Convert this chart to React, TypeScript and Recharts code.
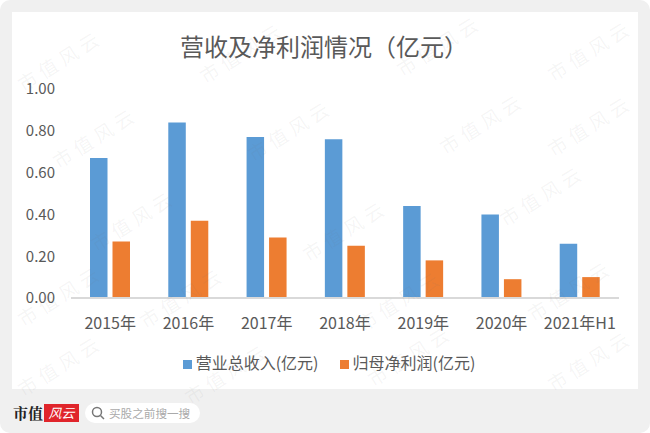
import { Bar, BarChart, Legend, XAxis, YAxis } from "recharts";

const years = ["2015年", "2016年", "2017年", "2018年", "2019年", "2020年", "2021年H1"];
const revenue = [0.67, 0.84, 0.77, 0.76, 0.44, 0.4, 0.26];
const profit = [0.27, 0.37, 0.29, 0.25, 0.18, 0.09, 0.1];
const yTicks = [0, 0.2, 0.4, 0.6, 0.8, 1];

const data = years.map((year, i) => ({ year, revenue: revenue[i], profit: profit[i] }));

// faint diagonal watermark, centre of each stamp
const stamps = [
  [60, 60], [242, 52], [439, 45], [590, 50], [95, 137], [290, 130], [482, 123], [590, 125],
  [133, 220], [345, 230], [542, 195], [60, 295], [182, 297], [400, 300], [570, 290],
  [60, 365], [227, 373], [410, 355], [590, 360],
];

const font = '"Noto Sans CJK SC", "Noto Sans", sans-serif';
const textColor = "#595959";

export default function App() {
  return (
    <div style={{ position: "fixed", left: 0, top: 0, width: 650, height: 433, background: "#fff", overflow: "hidden", fontFamily: font }}>
      <div style={{ position: "absolute", left: 0, top: 0, width: 650, height: 433, background: "#f0f0f0", borderRadius: 10 }} />
      <div style={{ position: "absolute", left: 12, top: 12, width: 626, height: 377, background: "#fff" }} />

      <div style={{ position: "absolute", left: 0, top: 0 }}>
        <BarChart
          width={650}
          height={433}
          data={data}
          barSize={17.5}
          barGap={5}
          margin={{ top: 89, right: 31, bottom: 69, left: 0 }}
        >
          <XAxis
            dataKey="year"
            axisLine={{ stroke: "#d9d9d9", strokeWidth: 2 }}
            tickLine={false}
            tick={{ fill: textColor, fontSize: 16, fontFamily: font }}
            tickMargin={14}
            interval={0}
            height={40}
          />
          <YAxis
            width={71}
            domain={[0, 1]}
            ticks={yTicks}
            tickFormatter={(v: number) => v.toFixed(2)}
            axisLine={false}
            tickLine={false}
            tickSize={0}
            tickMargin={16}
            tick={{ fill: textColor, fontSize: 15, fontFamily: font }}
          />
          <Legend
            iconType="square"
            iconSize={9}
            itemSorter={null}
            wrapperStyle={{ position: "absolute", left: 0, top: 350, width: 679, height: 26, fontSize: 16, fontFamily: font, color: textColor }}
            formatter={(value: string) => <span style={{ color: textColor, marginRight: 11 }}>{value}</span>}
          />
          <Bar dataKey="revenue" name="营业总收入(亿元)" fill="#5b9bd5" isAnimationActive={false} />
          <Bar dataKey="profit" name="归母净利润(亿元)" fill="#ed7d31" isAnimationActive={false} />
        </BarChart>
      </div>

      <div style={{ position: "absolute", left: -1, top: 29, width: 650, textAlign: "center", fontSize: 24, lineHeight: "34px", color: textColor }}>
        营收及净利润情况（亿元）
      </div>

      {/* footer logo and search pill */}
      <div style={{ position: "absolute", left: 13, top: 403, fontFamily: '"Noto Serif CJK SC", "Noto Sans CJK SC"', fontWeight: 700, fontSize: 15, lineHeight: "20px", color: "#222" }}>市值</div>
      <div style={{ position: "absolute", left: 44, top: 404, width: 35, height: 18, background: "#e0252b", color: "#fff", fontSize: 13, lineHeight: "18px", textAlign: "center", fontStyle: "italic" }}>风云</div>
      <div style={{ position: "absolute", left: 85, top: 403, width: 115, height: 20, borderRadius: 10, background: "#fff" }} />
      <svg style={{ position: "absolute", left: 90, top: 405 }} width={16} height={16}>
        <circle cx={7} cy={7} r={4.5} fill="none" stroke="#777" strokeWidth={1.5} />
        <line x1={10.5} y1={10.5} x2={14} y2={14} stroke="#777" strokeWidth={1.5} />
      </svg>
      <div style={{ position: "absolute", left: 109, top: 403, fontSize: 11.6, lineHeight: "20px", color: "#aaa" }}>买股之前搜一搜</div>

      {stamps.map(([x, y], i) => (
        <div
          key={i}
          style={{
            position: "absolute",
            left: x - 50,
            top: y - 12,
            width: 100,
            textAlign: "center",
            fontSize: 19,
            lineHeight: "24px",
            letterSpacing: 5,
            whiteSpace: "nowrap",
            color: "rgba(120,120,120,0.07)",
            transform: "rotate(-32deg)",
            pointerEvents: "none",
          }}
        >
          市值风云
        </div>
      ))}
    </div>
  );
}
